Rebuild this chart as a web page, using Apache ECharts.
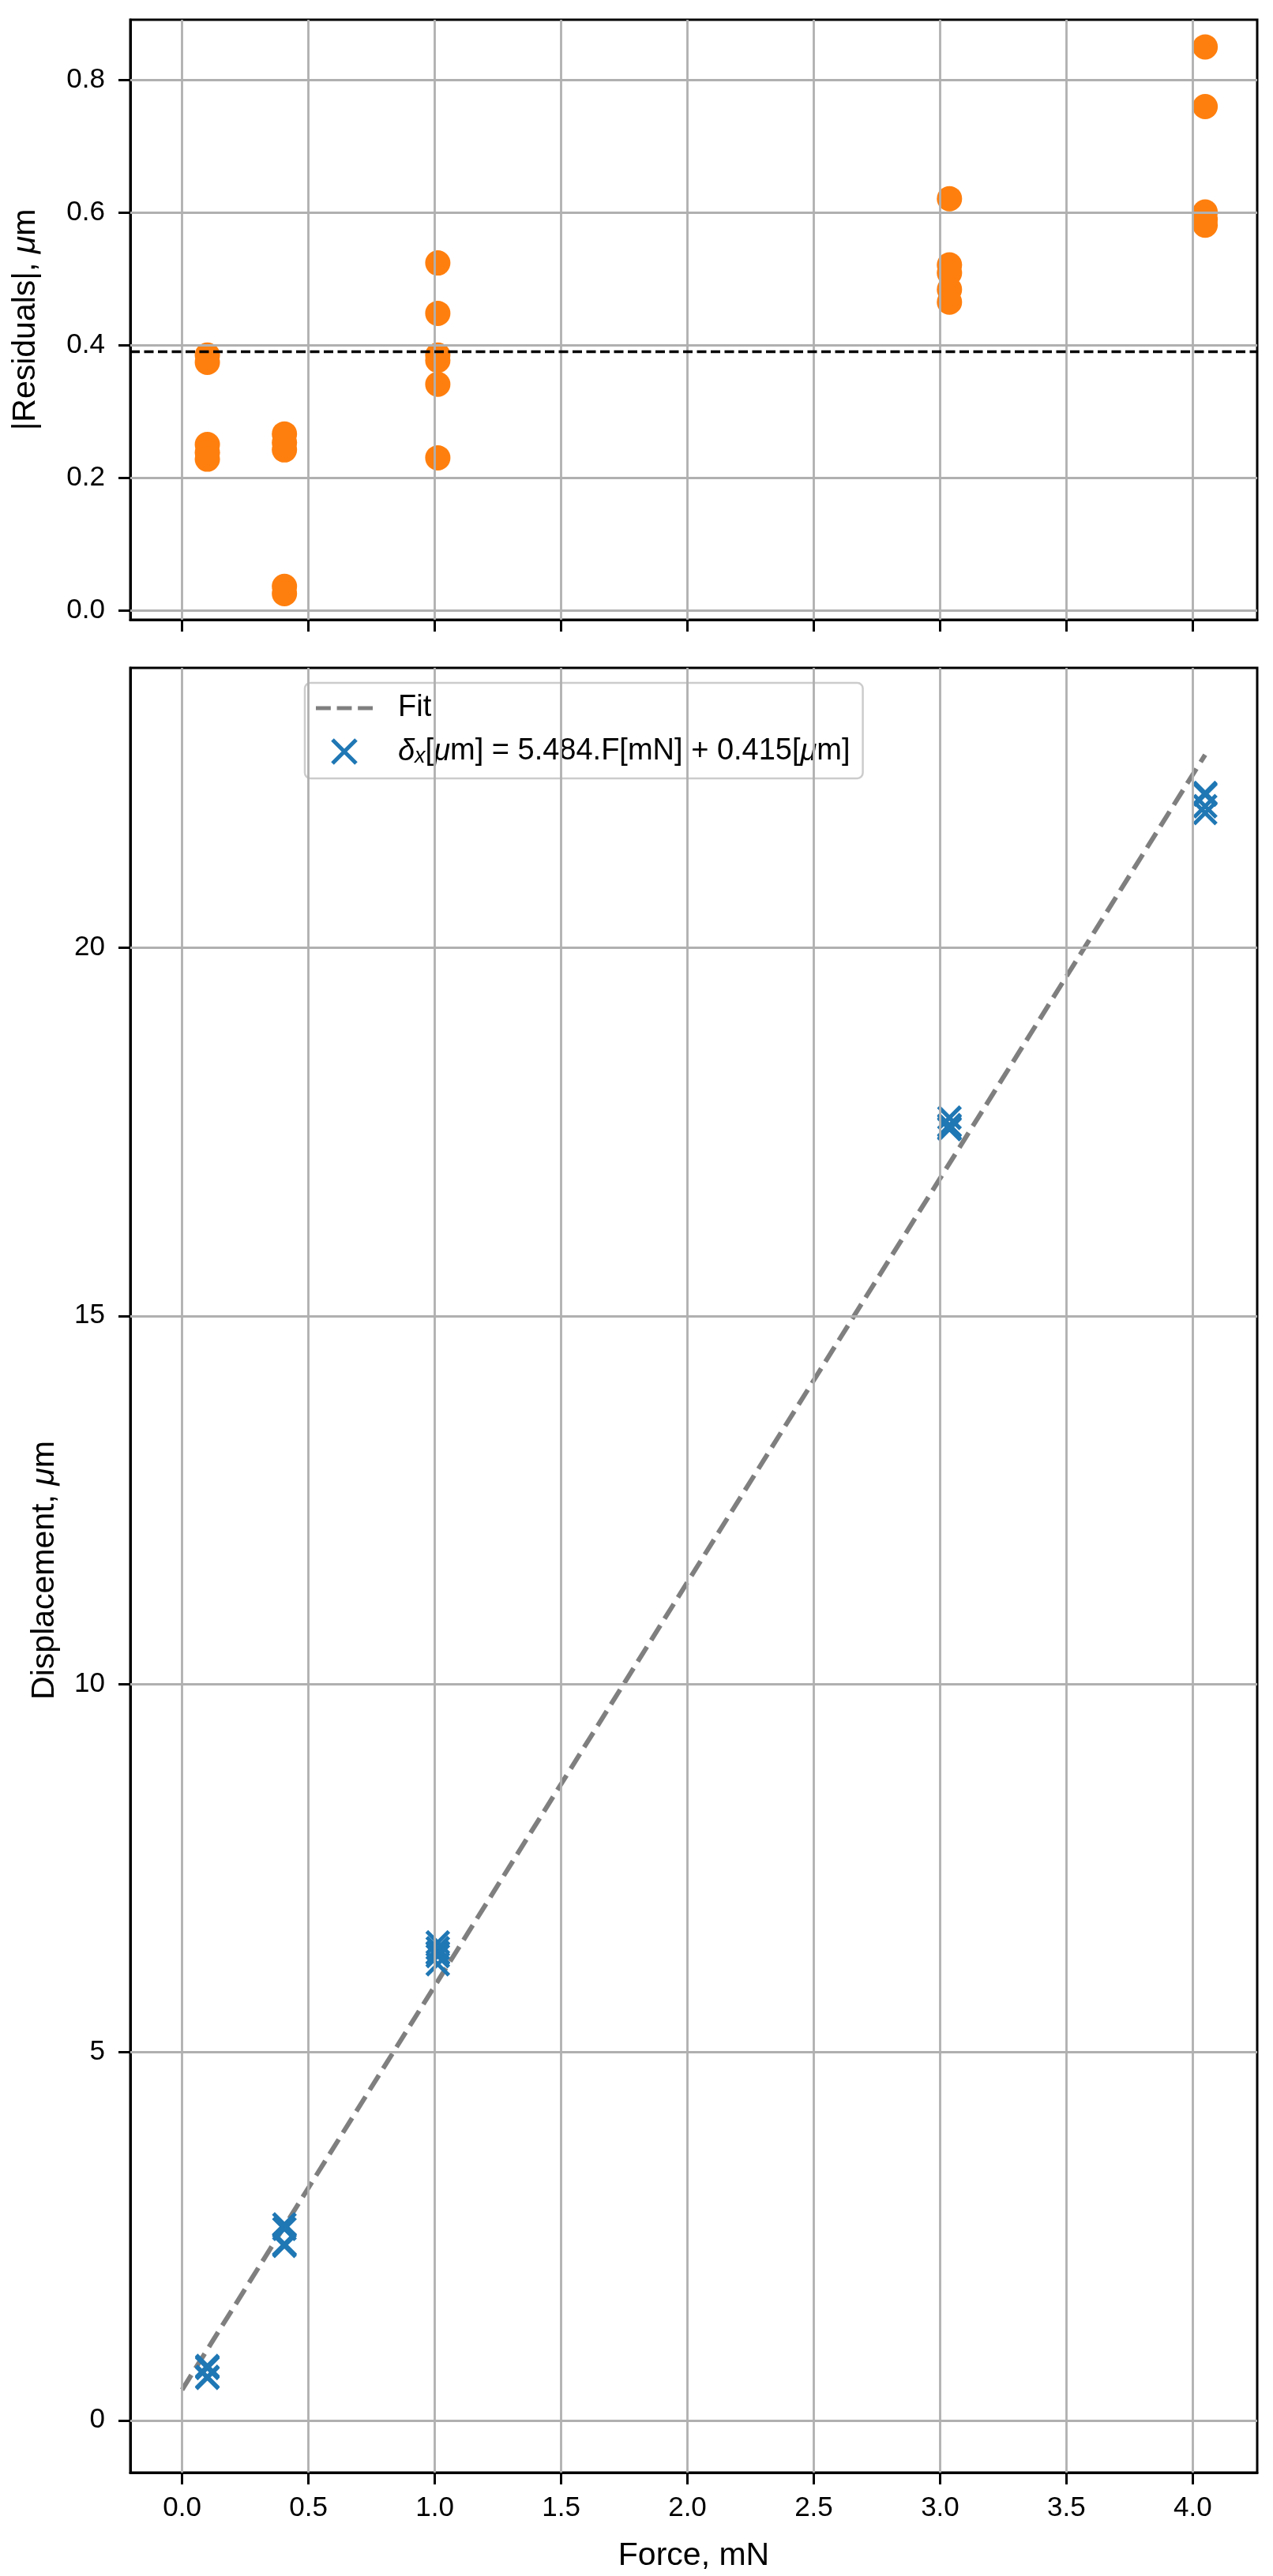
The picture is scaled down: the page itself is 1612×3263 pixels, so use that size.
<!DOCTYPE html>
<html>
<head>
<meta charset="utf-8">
<script src="https://cdn.jsdelivr.net/npm/echarts@6.0.0/dist/echarts.min.js"></script>
<style>
  html, body { margin: 0; padding: 0; background: #fff; }
  #main { width: 1612px; height: 3263px; }
</style>
</head>
<body>
<div id="main"></div>
<script>
// force levels (mN), one group of repeated measurements per level
const forceLevels = [0.1, 0.405, 1.012, 3.037, 4.049]

// |residuals| in um
const residuals = [
  [0.385, 0.374, 0.250, 0.238, 0.228],
  [0.266, 0.253, 0.242, 0.036, 0.025],
  [0.524, 0.448, 0.385, 0.377, 0.341, 0.230],
  [0.621, 0.521, 0.509, 0.484, 0.465],
  [0.850, 0.760, 0.601, 0.590, 0.581]
]
const meanResidual = 0.391

// displacement in um
const displacement = [
  [0.578, 0.589, 0.712, 0.725, 0.736],
  [2.370, 2.385, 2.395, 2.600, 2.660],
  [6.489, 6.413, 6.350, 6.343, 6.306, 6.195],
  [17.69, 17.59, 17.58, 17.55, 17.535],
  [21.83, 21.92, 22.08, 22.10, 22.09]
]

// fit line end points
const fitForce = [0, 4.049]
const fitDisp = [0.415, 22.62]

// tick labels
const xTicks = [0, 0.5, 1.0, 1.5, 2.0, 2.5, 3.0, 3.5, 4.0]
const yTicksTop = [0, 0.2, 0.4, 0.6, 0.8]
const yTicksBottom = [0, 5, 10, 15, 20]

const FONT = 'Liberation Sans'
const GRID_COLOR = '#b0b0b0'
const BLUE = '#1f77b4'
const X_SYMBOL = 'path://M0,0L10,10M10,0L0,10'

function pairs(groups) {
  const out = []
  groups.forEach((g, i) => g.forEach(v => out.push([forceLevels[i], v])))
  return out
}

// grid lines as mark lines so they sit on the tick values exactly
function gridLines(xIdx, yTicks) {
  return {
    type: 'line',
    xAxisIndex: xIdx,
    yAxisIndex: xIdx,
    data: [],
    z: 1,
    silent: true,
    markLine: {
      silent: true,
      symbol: ['none', 'none'],
      label: {show: false},
      animation: false,
      lineStyle: {color: GRID_COLOR, width: 2.8, type: 'solid'},
      emphasis: {disabled: true},
      data: xTicks.map(v => ({xAxis: v})).concat(yTicks.map(v => ({yAxis: v})))
    }
  }
}

function xAxisCfg(gridIndex, withLabels) {
  return {
    type: 'value',
    gridIndex: gridIndex,
    min: -0.205,
    max: 4.255,
    splitLine: {show: false},
    axisLine: {show: true, onZero: false, lineStyle: {color: '#000', width: 3}},
    axisTick: {show: true, inside: false, length: 15, lineStyle: {color: '#000', width: 3}, customValues: xTicks},
    axisLabel: {
      show: withLabels, customValues: xTicks, margin: 28,
      fontFamily: FONT, fontSize: 35, color: '#000',
      formatter: v => v.toFixed(1)
    },
    name: withLabels ? 'Force, mN' : '',
    nameLocation: 'middle',
    nameGap: 85,
    nameTextStyle: {fontFamily: FONT, fontSize: 41, color: '#000'}
  }
}

function yAxisCfg(gridIndex, lo, hi, ticks, fmt, name, gap) {
  return {
    type: 'value',
    gridIndex: gridIndex,
    min: lo,
    max: hi,
    splitLine: {show: false},
    axisLine: {show: true, onZero: false, lineStyle: {color: '#000', width: 3}},
    axisTick: {show: true, inside: false, length: 15, lineStyle: {color: '#000', width: 3}, customValues: ticks},
    axisLabel: {
      customValues: ticks, margin: 32,
      fontFamily: FONT, fontSize: 35, color: '#000',
      formatter: fmt
    },
    name: name,
    nameLocation: 'middle',
    nameGap: gap,
    nameTextStyle: {
      fontFamily: FONT, fontSize: 41, color: '#000',
      rich: {i: {fontFamily: FONT, fontSize: 41, fontStyle: 'italic', color: '#000'}}
    }
  }
}

const chart = echarts.init(document.getElementById('main'), null, {renderer: 'canvas'})

const option = {
  animation: false,
  backgroundColor: '#fff',
  grid: [
    {left: 165, top: 25, width: 1427, height: 760, show: true, borderColor: '#000', borderWidth: 3, backgroundColor: 'transparent'},
    {left: 165, top: 846, width: 1427, height: 2288, show: true, borderColor: '#000', borderWidth: 3, backgroundColor: 'transparent'}
  ],
  xAxis: [xAxisCfg(0, false), xAxisCfg(1, true)],
  yAxis: [
    yAxisCfg(0, -0.0143, 0.891, yTicksTop, v => v.toFixed(1), '|Residuals|, {i|μ}m', 112),
    yAxisCfg(1, -0.71, 23.8, yTicksBottom, v => String(v), 'Displacement, {i|μ}m', 88)
  ],
  legend: {
    data: [
      {
        name: 'Fit',
        // three dashes, like the dashed fit line
        icon: 'path://M0,0h22v6h-22zM31,0h22v6h-22zM62,0h22v6h-22z',
        itemStyle: {color: 'rgba(0,0,0,0.5)', borderWidth: 0}
      },
      {
        name: 'Data',
        icon: X_SYMBOL,
        itemStyle: {color: 'rgba(0,0,0,0)', borderColor: BLUE, borderWidth: 5}
      }
    ],
    orient: 'vertical',
    left: 386,
    top: 865,
    padding: [12, 16, 14, 14],
    itemWidth: 72,
    itemHeight: 30,
    itemGap: 15,
    backgroundColor: 'rgba(255,255,255,0.8)',
    borderColor: '#cccccc',
    borderWidth: 2.5,
    borderRadius: 7,
    selectedMode: false,
    textStyle: {
      fontFamily: FONT, fontSize: 38, color: '#000', lineHeight: 40,
      padding: [0, 0, 0, 27],
      rich: {
        i: {fontFamily: FONT, fontSize: 38, fontStyle: 'italic', color: '#000', lineHeight: 40},
        s: {fontFamily: FONT, fontSize: 27, fontStyle: 'italic', color: '#000', lineHeight: 22, verticalAlign: 'bottom'}
      }
    },
    formatter: name => name === 'Fit' ? 'Fit' : '{i|δ}{s|x}[{i|μ}m] = 5.484.F[mN] + 0.415[{i|μ}m]'
  },
  series: [
    gridLines(0, yTicksTop),
    gridLines(1, yTicksBottom),
    {
      name: 'Residuals',
      type: 'scatter',
      xAxisIndex: 0,
      yAxisIndex: 0,
      symbol: 'circle',
      symbolSize: 32,
      itemStyle: {color: '#ff7f0e', opacity: 1},
      z: 3,
      data: pairs(residuals)
    },
    {
      name: 'Mean',
      type: 'line',
      xAxisIndex: 0,
      yAxisIndex: 0,
      data: [],
      z: 4,
      markLine: {
        silent: true,
        symbol: ['none', 'none'],
        label: {show: false},
        animation: false,
        lineStyle: {color: '#000', width: 3.3, type: [12, 5.5]},
        data: [{yAxis: meanResidual}]
      }
    },
    {
      name: 'Fit',
      type: 'line',
      xAxisIndex: 1,
      yAxisIndex: 1,
      symbol: 'none',
      showSymbol: false,
      z: 2,
      lineStyle: {color: 'rgba(0,0,0,0.5)', width: 6, type: [22, 10]},
      itemStyle: {color: 'rgba(0,0,0,0.5)'},
      data: fitForce.map((f, i) => [f, fitDisp[i]])
    },
    {
      name: 'Data',
      type: 'scatter',
      xAxisIndex: 1,
      yAxisIndex: 1,
      symbol: X_SYMBOL,
      symbolSize: 28,
      itemStyle: {color: 'rgba(0,0,0,0)', borderColor: BLUE, borderWidth: 5, opacity: 1},
      z: 3,
      data: pairs(displacement)
    }
  ]
}

chart.setOption(option)
</script>
</body>
</html>
